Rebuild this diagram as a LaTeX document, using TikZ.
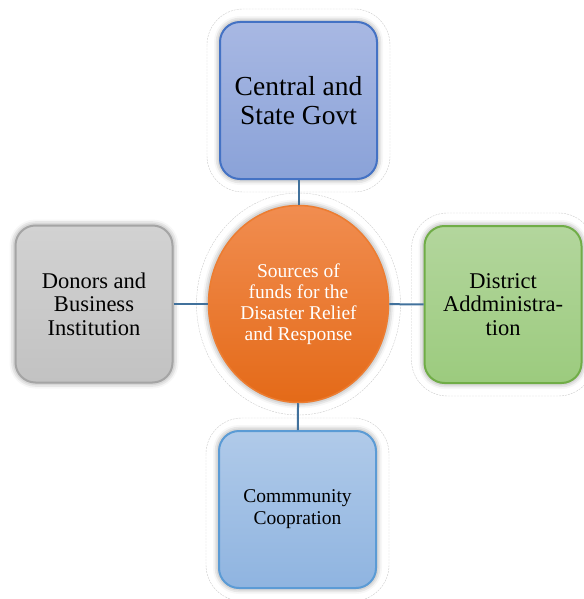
\documentclass[tikz,border=0pt]{standalone}
\usepackage{fontspec}
\setmainfont{Liberation Serif}
\usetikzlibrary{calc}
\usetikzlibrary{shapes.geometric}
\usetikzlibrary{shadows.blur}

\definecolor{govtline}{HTML}{4472C4}
\definecolor{govttop}{HTML}{A8B8E3}
\definecolor{govtbot}{HTML}{8AA2D8}
\definecolor{hubline}{HTML}{ED7D31}
\definecolor{hubtop}{HTML}{F18D50}
\definecolor{hubbot}{HTML}{E46A18}
\definecolor{donorline}{HTML}{A5A5A5}
\definecolor{donortop}{HTML}{D2D2D2}
\definecolor{donorbot}{HTML}{C2C2C2}
\definecolor{distline}{HTML}{70AD47}
\definecolor{disttop}{HTML}{B3D69D}
\definecolor{distbot}{HTML}{9CCB7E}
\definecolor{commline}{HTML}{5B9BD5}
\definecolor{commtop}{HTML}{B0CAE9}
\definecolor{commbot}{HTML}{8FB4E0}
\definecolor{linkcol}{HTML}{41719C}

\begin{document}
\begin{tikzpicture}[x=1pt,y=-1pt,
    glow/.style={blur shadow={shadow xshift=0pt,shadow yshift=0pt,shadow blur radius=6pt,shadow opacity=50}},
    fundbox/.style={rectangle,rounded corners=20pt,minimum width=157pt,minimum height=157pt,line width=2pt,align=center,glow},
    hubnode/.style={ellipse,minimum width=180pt,minimum height=197pt,line width=1.5pt,align=center,glow},
    halo/.style={gray!40,line width=0.4pt,dash pattern=on 2pt off 1pt},
    link/.style={linkcol,line width=2pt}]
    \useasboundingbox (0,0) rectangle (583,599);
    % shapes
    \node[fundbox,draw=govtline,top color=govttop,bottom color=govtbot,font=\fontsize{27.5}{29}\selectfont] (govt) at (298.5,100.5) {Central and\\State Govt};
    \node[fundbox,draw=donorline,top color=donortop,bottom color=donorbot,font=\fontsize{22.5}{23.5}\selectfont] (donor) at (94,304) {Donors and\\Business\\Institution};
    \node[fundbox,draw=distline,top color=disttop,bottom color=distbot,font=\fontsize{22.5}{23.5}\selectfont] (dist) at (503,304.5) {District\\Addministra-\\tion};
    \node[fundbox,draw=commline,top color=commtop,bottom color=commbot,font=\fontsize{19.5}{22}\selectfont] (comm) at (297.5,509.5) {Commmunity\\Coopration};
    \node[hubnode,draw=hubline,top color=hubtop,bottom color=hubbot,text=white,font=\fontsize{19.5}{21}\selectfont] (hub) at (298.5,304) {Sources of\\funds for the\\Disaster Relief\\and Response};
    % halos
    \draw[halo,rounded corners=36pt] ($(govt.north west)+(-12,-12)$) rectangle ($(govt.south east)+(12,12)$);
    \draw[halo,rounded corners=36pt] ($(dist.north west)+(-12,-12)$) rectangle ($(dist.south east)+(12,12)$);
    \draw[halo,rounded corners=36pt] ($(comm.north west)+(-12,-12)$) rectangle ($(comm.south east)+(12,12)$);
    \draw[halo] (hub.center) ellipse (102 and 111);
    % links
    \draw[link] (govt) -- (hub);
    \draw[link] (donor) -- (hub);
    \draw[link] (dist) -- (hub);
    \draw[link] (comm) -- (hub);
\end{tikzpicture}
\end{document}
